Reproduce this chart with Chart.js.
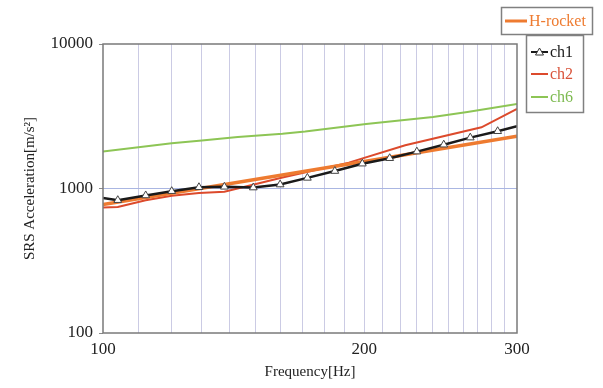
<!DOCTYPE html>
<html>
<head>
<meta charset="utf-8">
<script src="https://cdn.jsdelivr.net/npm/chart.js@4.4.1/dist/chart.umd.min.js"></script>
<style>
  html, body { margin: 0; padding: 0; background: #fff; }
  #wrap { width: 603px; height: 388px; }
</style>
</head>
<body>
<div id="wrap"><canvas id="srs"></canvas></div>
<script>
// shock response spectra: frequency [Hz] vs SRS acceleration [m/s2]
const rocketFreq = [100, 200, 300]
const rocketAcc = [775, 1540, 2300]

const ch1Freq = [100, 104, 112, 120, 129, 138, 149, 160, 172, 185, 199, 214, 230, 247, 265, 285, 300]
const ch1Acc = [860, 830, 895, 958, 1020, 1027, 1015, 1065, 1184, 1320, 1485, 1620, 1800, 2010, 2250, 2490, 2700]

const ch2Freq = [100, 104, 112, 120, 129, 138, 161, 192, 223, 273, 300]
const ch2Acc = [740, 745, 830, 890, 930, 950, 1190, 1510, 1990, 2650, 3550]

const ch6Freq = [100, 120, 130, 143, 161, 171, 201, 240, 263, 300]
const ch6Acc = [1805, 2060, 2150, 2270, 2390, 2480, 2800, 3120, 3380, 3850]

const xTicks = [100, 110, 120, 130, 140, 150, 160, 170, 180, 190, 200, 210, 220, 230, 240, 250, 260, 270, 280, 290, 300]
const xLabels = [100, 200, 300]
const yTicks = [100, 1000, 10000]

const serif = "'Liberation Serif', 'Times New Roman', serif"

const toPoints = (xs, ys) => xs.map((x, i) => ({ x, y: ys[i] }))

// marker only on the measured points, not on the end caps
const ch1Radius = ch1Freq.map((f, i) => (i === 0 || i === ch1Freq.length - 1 ? 0 : 4.5))

// two framed legend boxes at the top right, drawn from the datasets
const legendBoxes = {
  id: "legendBoxes",
  afterDraw(chart) {
    const ctx = chart.ctx
    const ds = chart.data.datasets
    ctx.save()
    ctx.font = "16px " + serif
    ctx.textBaseline = "middle"
    ctx.textAlign = "left"

    // H-rocket box
    ctx.fillStyle = "#fff"
    ctx.fillRect(501.5, 7.5, 91, 27)
    ctx.strokeStyle = "#808080"
    ctx.lineWidth = 1.5
    ctx.strokeRect(501.5, 7.5, 91, 27)
    ctx.strokeStyle = ds[0].borderColor
    ctx.lineWidth = 3
    ctx.beginPath()
    ctx.moveTo(505, 21)
    ctx.lineTo(527, 21)
    ctx.stroke()
    ctx.fillStyle = ds[0].borderColor
    ctx.fillText(ds[0].label, 529, 22)

    // channel box
    ctx.strokeStyle = "#808080"
    ctx.lineWidth = 1.5
    ctx.strokeRect(526.5, 35.5, 57, 77)
    const rows = [52, 74, 97]
    for (let k = 1; k <= 3; k++) {
      const y = rows[k - 1]
      ctx.strokeStyle = ds[k].borderColor
      ctx.lineWidth = 2
      ctx.beginPath()
      ctx.moveTo(531, y)
      ctx.lineTo(548, y)
      ctx.stroke()
      if (ds[k].pointStyle === "triangle") {
        ctx.fillStyle = "#fff"
        ctx.strokeStyle = "#333"
        ctx.lineWidth = 1
        ctx.beginPath()
        ctx.moveTo(539.5, y - 4)
        ctx.lineTo(543.5, y + 3)
        ctx.lineTo(535.5, y + 3)
        ctx.closePath()
        ctx.fill()
        ctx.stroke()
      }
      ctx.fillStyle = ds[k].legendText
      ctx.fillText(ds[k].label, 550, y + 1)
    }
    ctx.restore()
  },
  afterDatasetsDraw(chart) {
    const { ctx, chartArea: a } = chart
    ctx.save()
    ctx.strokeStyle = "#7a7a7a"
    ctx.lineWidth = 1.5
    ctx.strokeRect(a.left, a.top, a.right - a.left, a.bottom - a.top)
    ctx.restore()
  },
}

new Chart(document.getElementById("srs"), {
  type: "line",
  data: {
    datasets: [
      {
        label: "H-rocket",
        data: toPoints(rocketFreq, rocketAcc),
        borderColor: "#EE7B30",
        borderWidth: 3.5,
        pointRadius: 0,
        order: 1,
      },
      {
        label: "ch1",
        data: toPoints(ch1Freq, ch1Acc),
        borderColor: "#1a1a1a",
        legendText: "#1a1a1a",
        borderWidth: 2.5,
        pointStyle: "triangle",
        pointRadius: ch1Radius,
        pointBackgroundColor: "#fff",
        pointBorderColor: "#444",
        pointBorderWidth: 1,
        order: 0,
      },
      {
        label: "ch2",
        data: toPoints(ch2Freq, ch2Acc),
        borderColor: "#DC4A2C",
        legendText: "#D9533A",
        borderWidth: 2,
        pointRadius: 0,
        order: 2,
      },
      {
        label: "ch6",
        data: toPoints(ch6Freq, ch6Acc),
        borderColor: "#8DC555",
        legendText: "#7DBA50",
        borderWidth: 2,
        pointRadius: 0,
        order: 3,
      },
    ],
  },
  options: {
    responsive: true,
    maintainAspectRatio: false,
    animation: false,
    events: [],
    layout: { padding: { top: 44, right: 86, left: 0, bottom: 0 } },
    plugins: {
      legend: { display: false },
      tooltip: { enabled: false },
    },
    scales: {
      x: {
        type: "logarithmic",
        min: 100,
        max: 300,
        afterBuildTicks: (s) => {
          s.ticks = xTicks.map((v) => ({ value: v }))
        },
        afterFit: (s) => {
          s.height = 55
        },
        grid: {
          color: (c) => (c.tick && (c.tick.value === 100 || c.tick.value === 300) ? "rgba(0,0,0,0)" : "#CBCBE4"),
          lineWidth: 1,
          drawTicks: false,
        },
        border: { display: false },
        ticks: {
          autoSkip: false,
          maxRotation: 0,
          padding: 6,
          color: "#222",
          font: { family: serif, size: 17 },
          callback: (v) => (xLabels.includes(v) ? String(v) : ""),
        },
        title: {
          display: true,
          text: "Frequency[Hz]",
          color: "#222",
          font: { family: serif, size: 15 },
          padding: { top: 0, bottom: 7 },
        },
      },
      y: {
        type: "logarithmic",
        min: 100,
        max: 10000,
        afterBuildTicks: (s) => {
          s.ticks = yTicks.map((v) => ({ value: v }))
        },
        afterFit: (s) => {
          s.width = 103
        },
        grid: {
          color: (c) => (c.tick && c.tick.value === 1000 ? "#AAB6E2" : "rgba(0,0,0,0)"),
          lineWidth: 1,
          drawTicks: true,
          tickLength: 4,
          tickColor: "#8a8a8a",
        },
        border: { display: false },
        ticks: {
          padding: 6,
          color: "#222",
          font: { family: serif, size: 17 },
          callback: (v) => String(v),
        },
        title: {
          display: true,
          text: "SRS Acceleration[m/s²]",
          color: "#222",
          font: { family: serif, size: 15 },
          padding: { top: 21, bottom: 0 },
        },
      },
    },
  },
  plugins: [legendBoxes],
})
</script>
</body>
</html>
